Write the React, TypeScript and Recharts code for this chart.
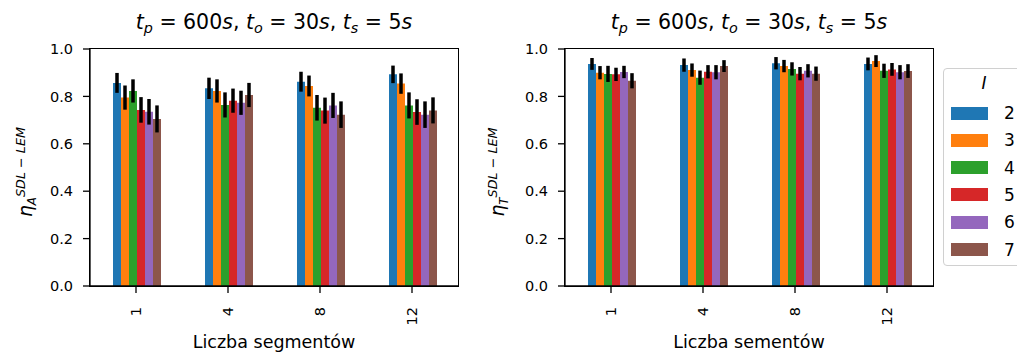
import React from "react";
import { BarChart, Bar, XAxis, YAxis, ErrorBar } from "recharts";

const segments = ["1", "4", "8", "12"];
const levels = ["2", "3", "4", "5", "6", "7"];
const colors = ["#1f77b4", "#ff7f0e", "#2ca02c", "#d62728", "#9467bd", "#8c564b"];
const yTicks = [0, 0.2, 0.4, 0.6, 0.8, 1.0];

// eta_A: one row per I level, one value per segment count
const etaA = [
  [0.857, 0.834, 0.862, 0.893],
  [0.795, 0.823, 0.844, 0.854],
  [0.823, 0.764, 0.752, 0.762],
  [0.743, 0.782, 0.74, 0.734],
  [0.735, 0.773, 0.762, 0.723],
  [0.705, 0.806, 0.723, 0.741],
];
const etaAErr = [
  [0.042, 0.045, 0.042, 0.037],
  [0.051, 0.049, 0.044, 0.043],
  [0.049, 0.053, 0.054, 0.055],
  [0.054, 0.051, 0.055, 0.054],
  [0.054, 0.051, 0.053, 0.056],
  [0.057, 0.051, 0.056, 0.055],
];

// eta_T
const etaT = [
  [0.937, 0.932, 0.94, 0.937],
  [0.9, 0.911, 0.928, 0.949],
  [0.895, 0.879, 0.916, 0.908],
  [0.893, 0.904, 0.896, 0.914],
  [0.903, 0.902, 0.908, 0.902],
  [0.866, 0.928, 0.896, 0.907],
];
const etaTErr = [
  [0.025, 0.028, 0.026, 0.027],
  [0.028, 0.028, 0.026, 0.025],
  [0.034, 0.03, 0.028, 0.03],
  [0.028, 0.028, 0.028, 0.027],
  [0.026, 0.03, 0.028, 0.03],
  [0.032, 0.025, 0.03, 0.029],
];

function buildRows(vals: number[][], errs: number[][]) {
  return segments.map((seg, i) => {
    const row: any = { seg };
    levels.forEach((lv, j) => {
      row["v" + lv] = vals[j][i];
      row["e" + lv] = errs[j][i];
    });
    return row;
  });
}

const FONT = "'DejaVu Sans', sans-serif";
const TICK_FS = 14.5;

function RotatedTick({ x, y, payload }: any) {
  const ty = y + 12;
  return (
    <text
      x={x}
      y={ty}
      transform={`rotate(-90, ${x}, ${ty})`}
      textAnchor="end"
      dominantBaseline="central"
      fontSize={TICK_FS}
      fontFamily={FONT}
      fill="#000"
    >
      {payload.value}
    </text>
  );
}

const sub = { fontSize: "0.7em", position: "relative" as const, top: "0.3em" };
const sup = { fontSize: "0.75em", position: "relative" as const, top: "-0.55em" };

function Title({ left }: { left: number }) {
  return (
    <div
      style={{
        position: "absolute",
        left,
        top: 10,
        width: 368,
        textAlign: "center",
        fontSize: 20.5,
        lineHeight: "24px",
        whiteSpace: "nowrap",
      }}
    >
      <i>t</i>
      <i style={sub}>p</i> = 600<i>s</i>, <i>t</i>
      <i style={sub}>o</i> = 30<i>s</i>, <i>t</i>
      <i style={sub}>s</i> = 5<i>s</i>
    </div>
  );
}

function YLabel({ cx, letter }: { cx: number; letter: string }) {
  return (
    <div
      style={{
        position: "absolute",
        left: cx - 100,
        top: 172 - 12,
        width: 200,
        height: 24,
        lineHeight: "24px",
        textAlign: "center",
        fontSize: 17,
        transform: "rotate(-90deg)",
        whiteSpace: "nowrap",
      }}
    >
      <i style={{ fontSize: "1.1em" }}>η</i>
      <i style={sub}>{letter}</i>
      <i style={sup}>SDL − LEM</i>
    </div>
  );
}

function XLabel({ left, text }: { left: number; text: string }) {
  return (
    <div
      style={{
        position: "absolute",
        left,
        top: 331,
        width: 368,
        textAlign: "center",
        fontSize: 17.5,
        lineHeight: "22px",
        whiteSpace: "nowrap",
      }}
    >
      {text}
    </div>
  );
}

function Frame({ left }: { left: number }) {
  return (
    <div
      style={{
        position: "absolute",
        left: left - 1,
        top: 48,
        width: 370,
        height: 239,
        boxSizing: "border-box",
        border: "1.4px solid #000",
        pointerEvents: "none",
      }}
    />
  );
}

function Panel({ rows, marginLeft, width }: { rows: any[]; marginLeft: number; width: number }) {
  const axisStyle = { stroke: "#000", strokeWidth: 1.3 };
  return (
    <BarChart
      width={width}
      height={354}
      data={rows}
      margin={{ top: 49, right: width - marginLeft - 60 - 368, bottom: 28, left: marginLeft }}
      barCategoryGap="25%"
      barGap={0}
    >
      <XAxis
        dataKey="seg"
        height={40}
        interval={0}
        tick={<RotatedTick />}
        tickSize={7}
        axisLine={axisStyle}
        tickLine={axisStyle}
      />
      <YAxis
        domain={[0, 1]}
        ticks={yTicks}
        width={60}
        tickSize={7}
        tickMargin={10}
        tickFormatter={(v: number) => v.toFixed(1)}
        tick={{ fill: "#000", fontSize: TICK_FS, fontFamily: FONT }}
        axisLine={axisStyle}
        tickLine={axisStyle}
      />
      {levels.map((lv, j) => (
        <Bar key={lv} dataKey={"v" + lv} fill={colors[j]} isAnimationActive={false}>
          <ErrorBar dataKey={"e" + lv} width={0} stroke="#000" strokeWidth={3.5} direction="y" isAnimationActive={false} />
        </Bar>
      ))}
    </BarChart>
  );
}

function LegendBox() {
  return (
    <div
      style={{
        position: "absolute",
        left: 943,
        top: 68,
        width: 90,
        height: 196,
        border: "1px solid #d0d0d0",
        borderRadius: 4,
        background: "#fff",
        fontSize: 17,
      }}
    >
      <div style={{ position: "absolute", left: 0, top: 4, width: 80, textAlign: "center" }}>
        <i>I</i>
      </div>
      {levels.map((lv, j) => (
        <div key={lv} style={{ position: "absolute", left: 7, top: 34 + j * 27.3, height: 20, display: "flex", alignItems: "center" }}>
          <span style={{ display: "inline-block", width: 37, height: 13, background: colors[j] }} />
          <span style={{ marginLeft: 16 }}>{lv}</span>
        </div>
      ))}
    </div>
  );
}

export default function App() {
  const rowsA = buildRows(etaA, etaAErr);
  const rowsT = buildRows(etaT, etaTErr);
  return (
    <div
      style={{
        position: "absolute",
        left: 0,
        top: 0,
        width: 1017,
        height: 354,
        overflow: "hidden",
        background: "#fff",
        fontFamily: FONT,
        color: "#000",
      }}
    >
      <div style={{ position: "absolute", left: 0, top: 0 }}>
        <Panel rows={rowsA} marginLeft={30} width={470} />
      </div>
      <div style={{ position: "absolute", left: 470, top: 0 }}>
        <Panel rows={rowsT} marginLeft={35} width={480} />
      </div>
      <Frame left={90} />
      <Frame left={565} />
      <Title left={90} />
      <Title left={565} />
      <YLabel cx={26} letter="A" />
      <YLabel cx={498} letter="T" />
      <XLabel left={90} text="Liczba segmentów" />
      <XLabel left={565} text="Liczba sementów" />
      <LegendBox />
    </div>
  );
}
